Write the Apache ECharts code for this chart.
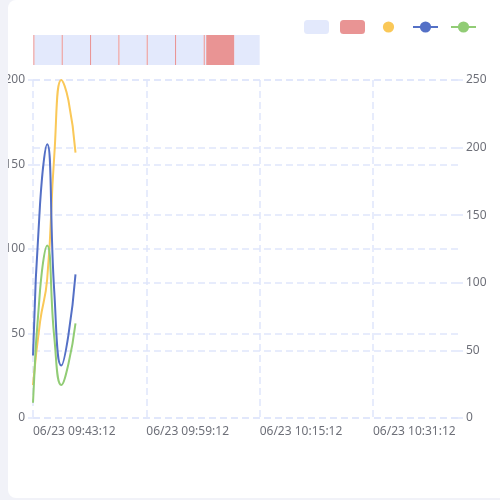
<!DOCTYPE html>
<html><head><meta charset="utf-8">
<script src="https://cdn.jsdelivr.net/npm/echarts@6/dist/echarts.min.js"></script>
<style>
html,body{margin:0;padding:0;background:#f1f2f8;width:500px;height:500px;overflow:hidden}
#card{position:absolute;left:8px;top:0;width:500px;height:498px;background:#fff;border-radius:8px;overflow:hidden}
#chart{position:absolute;left:0;top:0;width:492px;height:498px}
</style></head><body>
<div id="card"><div id="chart"></div></div>
<script>
// time axis: one category per minute, 06/23 09:43:12 .. 10:43:12
const datePrefix = '06/23';
const startClock = [9, 43, 12];
const minuteCount = 61;
const categories = [];
for (let i = 0; i < minuteCount; i++) {
  const total = startClock[0] * 60 + startClock[1] + i;
  const hh = String(Math.floor(total / 60)).padStart(2, '0');
  const mm = String(total % 60).padStart(2, '0');
  const ss = String(startClock[2]).padStart(2, '0');
  categories.push(datePrefix + ' ' + hh + ':' + mm + ':' + ss);
}

// line series values (one per minute from 09:43:12)
const yellowValues = [19.5, 57, 82, 155, 200, 188, 157];
const blueValues   = [37, 127, 162, 75, 31, 49, 85];
const greenValues  = [9, 76, 102, 48, 19.5, 32, 56];

// status strip, in minutes after 09:43:12
const normalStart = [0.2, 4.2, 8.2, 12.2, 16.2, 20.2, 24.25, 28.4];
const normalEnd   = [4.05, 8.05, 12.05, 16.05, 20.05, 24.1, 24.45, 32];
const alarmStart  = [0.05, 4.05, 8.05, 12.05, 16.05, 20.05, 24.1, 24.45];
const alarmEnd    = [0.2, 4.2, 8.2, 12.2, 16.2, 20.2, 24.25, 28.4];

const leftTicks = [0, 200, 50];
const rightTicks = [0, 250, 50];

const splitColor = '#dfe6fb';
const labelColor = '#6e7079';
const font = 'Noto Sans';

function pairs(a, b) { return a.map((v, i) => [v, b[i]]); }

function renderStrip(params, api) {
  const p0 = api.coord([api.value(0), 1]);
  const p1 = api.coord([api.value(1), 0]);
  return {
    type: 'rect',
    shape: { x: p0[0], y: p0[1], width: p1[0] - p0[0], height: p1[1] - p0[1] },
    style: { fill: api.visual('color') }
  };
}

const chart = echarts.init(document.getElementById('chart'));
const splitStyle = { color: splitColor, type: [7, 4], width: 1.5 };
const yAxisCommon = {
  type: 'value',
  gridIndex: 0,
  axisLine: { show: false },
  axisTick: { show: true, length: 5, lineStyle: { color: splitColor, width: 1.5 } },
  axisLabel: { color: labelColor, fontSize: 12, fontFamily: font },
  splitLine: { show: true, lineStyle: splitStyle }
};
chart.setOption({
  animation: false,
  textStyle: { fontFamily: font },
  legend: {
    top: 15, right: 18, itemWidth: 25, itemHeight: 14, itemGap: 11,
    formatter: () => '',
    data: [
      { name: '正常' },
      { name: '异常' },
      { name: '指标A', lineStyle: { opacity: 0, width: 0 } },
      { name: '指标B' },
      { name: '指标C' }
    ]
  },
  grid: [
    { left: 25, right: 42, top: 80, bottom: 80, outerBoundsMode: 'none', containLabel: false },
    { left: 25, right: 42, top: 35, height: 30, outerBoundsMode: 'none', containLabel: false }
  ],
  xAxis: [
    {
      type: 'category', gridIndex: 0, data: categories, boundaryGap: false,
      axisLine: { show: false }, axisTick: { show: false },
      axisLabel: { interval: 15, align: 'left', color: labelColor, fontSize: 12, fontFamily: font, margin: 8 },
      splitLine: { show: true, interval: 15, lineStyle: splitStyle }
    },
    { type: 'value', gridIndex: 1, min: 0, max: minuteCount - 1, show: false }
  ],
  yAxis: [
    Object.assign({}, yAxisCommon, { position: 'left', min: leftTicks[0], max: leftTicks[1], interval: leftTicks[2] }),
    Object.assign({}, yAxisCommon, { position: 'right', min: rightTicks[0], max: rightTicks[1], interval: rightTicks[2] }),
    { type: 'value', gridIndex: 1, min: 0, max: 1, show: false }
  ],
  series: [
    { name: '正常', type: 'custom', xAxisIndex: 1, yAxisIndex: 2, color: '#e3e9fc',
      renderItem: renderStrip, encode: { x: [0, 1] }, data: pairs(normalStart, normalEnd) },
    { name: '异常', type: 'custom', xAxisIndex: 1, yAxisIndex: 2, color: '#e99494',
      renderItem: renderStrip, encode: { x: [0, 1] }, data: pairs(alarmStart, alarmEnd) },
    { name: '指标A', type: 'line', smooth: true, symbol: 'circle', showSymbol: false, color: '#fac858',
      lineStyle: { width: 2 }, data: yellowValues },
    { name: '指标B', type: 'line', smooth: true, symbol: 'circle', showSymbol: false, color: '#5470c6',
      lineStyle: { width: 2 }, data: blueValues },
    { name: '指标C', type: 'line', smooth: true, symbol: 'circle', showSymbol: false, color: '#91cc75',
      lineStyle: { width: 2 }, data: greenValues }
  ]
});
</script>
</body></html>
